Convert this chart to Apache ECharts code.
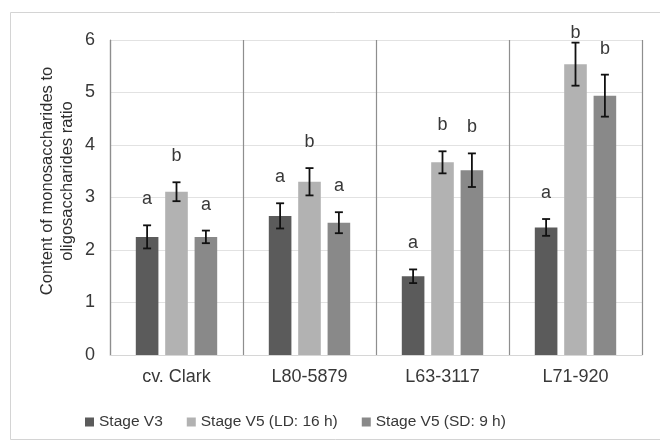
<!DOCTYPE html>
<html>
<head>
<meta charset="utf-8">
<script src="https://cdn.jsdelivr.net/npm/echarts@6/dist/echarts.min.js"></script>
<style>
  html, body { margin: 0; padding: 0; background: #ffffff; }
  #chart { width: 660px; height: 441px; }
</style>
</head>
<body>
<div id="chart"></div>
<script>
// Lines and stages
const categories = ['cv. Clark', 'L80-5879', 'L63-3117', 'L71-920'];
const stages = ['Stage V3', 'Stage V5 (LD: 16 h)', 'Stage V5 (SD: 9 h)'];
const yTitle = 'Content of monosaccharides to\noligosaccharides ratio';

// Mean ratio, standard error and significance letters per stage
const v3Mean = [2.25, 2.65, 1.50, 2.43];
const v3Err = [0.22, 0.24, 0.13, 0.16];
const v3Letters = ['a', 'a', 'a', 'a'];

const ldMean = [3.11, 3.30, 3.67, 5.54];
const ldErr = [0.18, 0.26, 0.21, 0.41];
const ldLetters = ['b', 'b', 'b', 'b'];

const sdMean = [2.25, 2.52, 3.52, 4.94];
const sdErr = [0.12, 0.20, 0.32, 0.40];
const sdLetters = ['a', 'a', 'b', 'b'];

const yTicks = [0, 1, 2, 3, 4, 5, 6];

const colors = ['#5b5b5b', '#b2b2b2', '#898989'];
const FONT = '"Liberation Sans", Arial, sans-serif';
const TEXT = '#383838';
const BAR_FRAC = 0.17;   // bar width as share of the category band
const BAR_GAP = 0.30;    // gap between bars as share of bar width

const groups = [
  { mean: v3Mean, err: v3Err, letters: v3Letters },
  { mean: ldMean, err: ldErr, letters: ldLetters },
  { mean: sdMean, err: sdErr, letters: sdLetters }
];

// rows: [categoryIndex, stageIndex, mean, err, letter]
const errRows = [];
groups.forEach((g, s) => {
  g.mean.forEach((m, c) => errRows.push([c, s, m, g.err[c], g.letters[c]]));
});

function renderErr(params, api) {
  const c = api.value(0);
  const s = api.value(1);
  const m = api.value(2);
  const e = api.value(3);
  const letter = errRows[params.dataIndex][4];
  const band = api.size([1, 0])[0];
  const w = band * BAR_FRAC;
  const step = w * (1 + BAR_GAP);
  const x = api.coord([c, 0])[0] + (s - 1) * step;
  const yHi = api.coord([c, m + e])[1];
  const yLo = api.coord([c, m - e])[1];
  const cap = 4;
  const style = { stroke: '#111111', lineWidth: 1.8 };
  const ly = Math.max(yHi - 26, 33);
  return {
    type: 'group',
    children: [
      { type: 'line', shape: { x1: x, y1: yHi, x2: x, y2: yLo }, style },
      { type: 'line', shape: { x1: x - cap, y1: yHi, x2: x + cap, y2: yHi }, style },
      { type: 'line', shape: { x1: x - cap, y1: yLo, x2: x + cap, y2: yLo }, style },
      {
        type: 'text',
        style: {
          x: x, y: ly, text: letter,
          fill: TEXT, fontSize: 18, fontFamily: FONT,
          textAlign: 'center', textVerticalAlign: 'middle'
        }
      }
    ]
  };
}

const chart = echarts.init(document.getElementById('chart'), null, { renderer: 'canvas' });

chart.setOption({
  animation: false,
  backgroundColor: '#ffffff',
  textStyle: { fontFamily: FONT },
  graphic: [
    {
      type: 'rect',
      shape: { x: 10.5, y: 12.5, width: 660, height: 427 },
      style: { fill: 'none', stroke: '#d4d4d4', lineWidth: 1 },
      silent: true
    },
    {
      type: 'text',
      x: 57,
      y: 181,
      rotation: Math.PI / 2,
      style: {
        x: 0, y: 0,
        text: yTitle,
        fill: '#2e2e2e',
        fontSize: 16.5,
        fontFamily: FONT,
        lineHeight: 20,
        textAlign: 'center',
        textVerticalAlign: 'middle'
      },
      silent: true
    }
  ],
  grid: { left: 110, right: 18, top: 40, bottom: 86 },
  legend: {
    data: stages,
    left: 80,
    top: 409,
    icon: 'rect',
    itemWidth: 9,
    itemHeight: 9,
    itemGap: 24,
    textStyle: { fontFamily: FONT, fontSize: 15.5, color: TEXT }
  },
  xAxis: {
    type: 'category',
    data: categories,
    boundaryGap: true,
    axisLine: { show: true, lineStyle: { color: '#d6d6d6', width: 1 } },
    axisTick: { show: false },
    splitLine: { show: true, lineStyle: { color: '#8e8e8e', width: 1.2 } },
    axisLabel: { fontFamily: FONT, fontSize: 18, color: TEXT, margin: 13 }
  },
  yAxis: {
    type: 'value',
    min: yTicks[0],
    max: yTicks[yTicks.length - 1],
    interval: 1,
    axisLine: { show: true, lineStyle: { color: '#8e8e8e', width: 1.2 } },
    axisTick: { show: false },
    splitLine: { show: true, lineStyle: { color: '#e2e2e2', width: 1 } },
    axisLabel: { fontFamily: FONT, fontSize: 18, color: TEXT, margin: 15 }
  },
  series: [
    {
      name: stages[0], type: 'bar', data: v3Mean,
      barWidth: (BAR_FRAC * 100) + '%', barGap: (BAR_GAP * 100) + '%',
      itemStyle: { color: colors[0] }, z: 2
    },
    {
      name: stages[1], type: 'bar', data: ldMean,
      barWidth: (BAR_FRAC * 100) + '%', barGap: (BAR_GAP * 100) + '%',
      itemStyle: { color: colors[1] }, z: 2
    },
    {
      name: stages[2], type: 'bar', data: sdMean,
      barWidth: (BAR_FRAC * 100) + '%', barGap: (BAR_GAP * 100) + '%',
      itemStyle: { color: colors[2] }, z: 2
    },
    {
      type: 'custom',
      renderItem: renderErr,
      data: errRows.map(r => [r[0], r[1], r[2], r[3]]),
      encode: { x: 0, y: 2 },
      z: 5,
      silent: true
    }
  ]
});
</script>
</body>
</html>
